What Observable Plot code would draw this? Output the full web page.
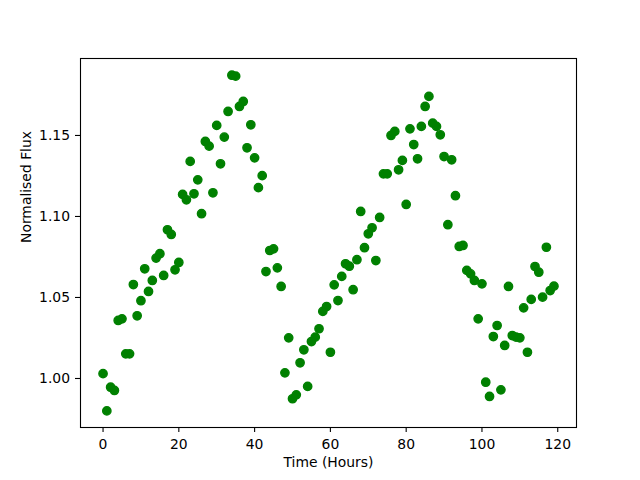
<!DOCTYPE html>
<html>
<head>
<meta charset="utf-8">
<script src="https://cdn.jsdelivr.net/npm/d3@7"></script>
<script src="https://cdn.jsdelivr.net/npm/@observablehq/plot@0.6"></script>
<style>
  html, body { margin: 0; padding: 0; background: #fff; }
  #chart svg { display: block; }
</style>
</head>
<body>
<div id="chart"></div>
<script>
const hours = [0,1,2,3,4,5,6,7,8,9,10,11,12,13,14,15,16,17,18,19,
  20,21,22,23,24,25,26,27,28,29,30,31,32,33,34,35,36,37,38,39,
  40,41,42,43,44,45,46,47,48,49,50,51,52,53,54,55,56,57,58,59,
  60,61,62,63,64,65,66,67,68,69,70,71,72,73,74,75,76,77,78,79,
  80,81,82,83,84,85,86,87,88,89,90,91,92,93,94,95,96,97,98,99,
  100,101,102,103,104,105,106,107,108,109,110,111,112,113,114,115,116,117,118,119];

const flux = [1.003,0.980,0.9946,0.9926,1.0358,1.0368,1.0152,1.0152,1.058,1.0387,
  1.048,1.0677,1.0537,1.0605,1.0743,1.077,1.0636,1.0918,1.0889,1.0671,
  1.0716,1.1136,1.1103,1.134,1.114,1.1226,1.1017,1.1463,1.1434,1.1146,
  1.1562,1.1325,1.149,1.1648,1.1872,1.1866,1.1679,1.171,1.1424,1.1566,
  1.1362,1.1178,1.1252,1.066,1.079,1.080,1.0683,1.0568,1.0035,1.0251,
  0.9875,0.9899,1.0097,1.0177,0.9951,1.0228,1.0255,1.0307,1.0414,1.0444,
  1.0162,1.0578,1.0481,1.063,1.0708,1.0693,1.0548,1.0733,1.1031,1.0807,
  1.0893,1.093,1.0728,1.0994,1.1263,1.1263,1.150,1.1525,1.1288,1.1346,
  1.1074,1.1541,1.1444,1.1356,1.1556,1.1679,1.1741,1.1576,1.1556,1.1504,
  1.137,1.0949,1.135,1.1128,1.0815,1.0821,1.0667,1.0646,1.0605,1.0368,
  1.0584,0.9977,0.9889,1.0259,1.0327,0.993,1.0204,1.0568,1.0265,1.0255,
  1.0251,1.0436,1.0162,1.0488,1.0691,1.0656,1.0502,1.081,1.0543,1.057];

const xTicks = [0, 20, 40, 60, 80, 100, 120];
const yTicks = [1.00, 1.05, 1.10, 1.15];
const xLabel = "Time (Hours)";
const yLabel = "Normalised Flux";

const data = hours.map((h, i) => ({hour: h, flux: flux[i]}));

const chart = Plot.plot({
  width: 640,
  height: 480,
  marginLeft: 80,
  marginRight: 64,
  marginTop: 58,
  marginBottom: 53,
  style: {fontFamily: "DejaVu Sans", fontSize: "13.9px", color: "black", background: "white"},
  x: {domain: [-5.95, 124.95]},
  y: {domain: [0.96975, 1.1975]},
  marks: [
    Plot.dot(data, {x: "hour", y: "flux", r: 4.17, fill: "green", stroke: "green", strokeWidth: 1.39}),
    Plot.frame({stroke: "black", strokeWidth: 1.1}),
    Plot.axisX({ticks: xTicks, tickFormat: d => String(d), tickSize: 5, tickPadding: 7, strokeWidth: 1.1, label: null, fontSize: 13.9}),
    Plot.axisY({ticks: yTicks, tickFormat: d => d.toFixed(2), tickSize: 5, tickPadding: 5.5, strokeWidth: 1.1, label: null, fontSize: 13.9}),
    Plot.text([xLabel], {text: d => d, frameAnchor: "bottom", lineAnchor: "bottom", dy: 39.5, fontSize: 13.9, fill: "black"}),
    Plot.text([yLabel], {text: d => d, frameAnchor: "left", dx: -53.5, rotate: -90, fontSize: 13.9, fill: "black"})
  ]
});
document.getElementById("chart").appendChild(chart);
</script>
</body>
</html>
